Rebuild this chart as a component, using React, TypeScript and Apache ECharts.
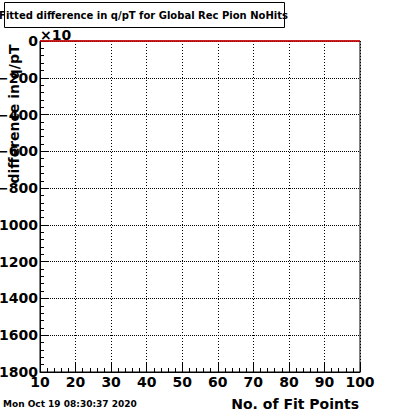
import React, { useEffect, useRef } from "react";
import * as echarts from "echarts";

const titleText = "Fitted difference in q/pT for Global Rec Pion NoHits";
const xTitle = "No. of Fit Points";
const yTitle = "difference in q/pT";
const dateText = "Mon Oct 19 08:30:37 2020";
const exponentText = "×10";

const fitPoints = [10, 100];
const diffValues = [0, 0];

const xMin = 10;
const xMax = 100;
const xStep = 10;
const yMin = -1800;
const yMax = 0;
const yStep = 200;

const FONT = "DejaVu Sans";

export default function App() {
  const ref = useRef<HTMLDivElement>(null);
  useEffect(() => {
    document.body.style.margin = "0";
    const chart = echarts.init(ref.current!, null, { renderer: "svg" });
    const left = 40, top = 41, right = 360, bottom = 372;
    chart.setOption({
      animation: false,
      backgroundColor: "#ffffff",
      grid: {
        left, top, width: right - left, height: bottom - top,
        containLabel: false,
        outerBoundsMode: "none",
        show: true, borderColor: "#000", borderWidth: 1, backgroundColor: "transparent",
      },
      xAxis: {
        type: "value", min: xMin, max: xMax, interval: xStep,
        axisLine: { show: true, onZero: false, lineStyle: { color: "#000", width: 1 } },
        axisTick: { show: true, inside: true, length: 9, lineStyle: { color: "#000" } },
        minorTick: { show: true, splitNumber: 5, length: 4, lineStyle: { color: "#000" } },
        axisLabel: {
          color: "#000", fontFamily: FONT, fontWeight: "bold", fontSize: 14, margin: 3,
          formatter: (v: number) => String(v),
        },
        splitLine: { show: true, lineStyle: { color: "#000", type: [1, 2], width: 1 } },
      },
      yAxis: {
        type: "value", min: yMin, max: yMax, interval: yStep,
        axisLine: { show: true, onZero: false, lineStyle: { color: "#000", width: 1 } },
        axisTick: { show: true, inside: true, length: 8, lineStyle: { color: "#000" } },
        minorTick: { show: true, splitNumber: 5, length: 4, lineStyle: { color: "#000" } },
        axisLabel: {
          color: "#000", fontFamily: FONT, fontWeight: "bold", fontSize: 14, margin: 2,
          formatter: (v: number) => String(v).replace("-", "\u2212"),
        },
        splitLine: { show: true, lineStyle: { color: "#000", type: [1, 1], width: 1 } },
      },
      series: [
        {
          type: "line",
          data: fitPoints.map((x, i) => [x, diffValues[i]]),
          symbol: "none",
          lineStyle: { color: "#e00000", width: 1.5 },
          clip: false,
          z: 5,
        },
      ],
      graphic: [
        {
          type: "rect",
          shape: { x: 4.5, y: 2.5, width: 280, height: 25 },
          style: { fill: "#fff", stroke: "#000", lineWidth: 1 },
        },
        {
          type: "text",
          x: 143.5, y: 15,
          style: {
            text: titleText, fill: "#000", font: `bold 10px '${FONT}'`,
            textAlign: "center", textVerticalAlign: "middle",
          },
        },
        {
          type: "text",
          x: 40, y: 35,
          style: {
            text: exponentText, fill: "#000", font: `bold 14px '${FONT}'`,
            textAlign: "left", textVerticalAlign: "middle",
          },
        },
        {
          type: "text",
          x: 14, y: 114, rotation: Math.PI / 2,
          style: {
            text: yTitle, fill: "#000", font: `bold 14px '${FONT}'`,
            textAlign: "center", textVerticalAlign: "middle",
          },
        },
        {
          type: "text",
          x: 359, y: 404,
          style: {
            text: xTitle, fill: "#000", font: `bold 14px '${FONT}'`,
            textAlign: "right", textVerticalAlign: "middle",
          },
        },
        {
          type: "text",
          x: 3, y: 404,
          style: {
            text: dateText, fill: "#000", font: `bold 9px '${FONT}'`,
            textAlign: "left", textVerticalAlign: "middle",
          },
        },
      ],
    });
    return () => chart.dispose();
  }, []);
  return <div ref={ref} style={{ width: 400, height: 414 }} />;
}
